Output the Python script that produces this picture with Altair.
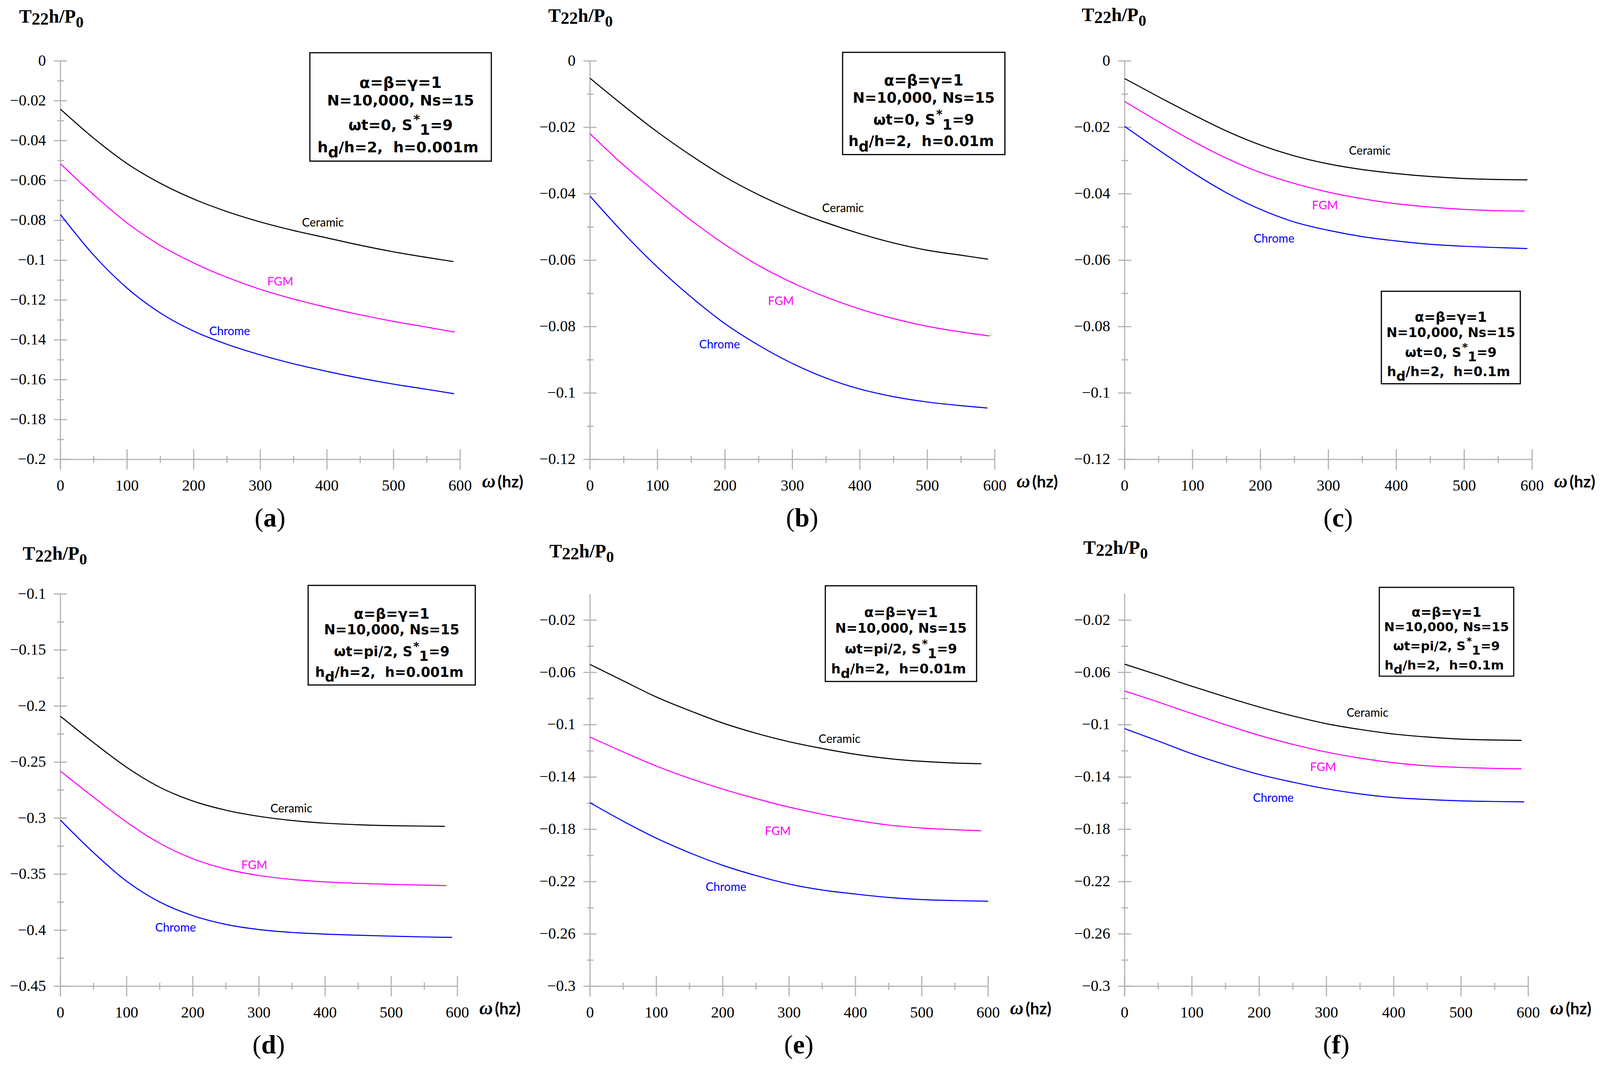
import altair as alt
import pandas as pd

# ---------------- data ----------------
FREQ = [0, 50, 100, 150, 200, 250, 300, 350, 400, 450, 500, 550]
SERIES = ["Ceramic", "FGM", "Chrome"]
COLORS = ["#000000", "#ff00ff", "#0000ff"]
X_TICKS = [0, 100, 200, 300, 400, 500, 600]
X_MINOR = [50, 150, 250, 350, 450, 550]

A_CERAMIC = [-0.0242, -0.0388, -0.0515, -0.0614, -0.0693, -0.0756, -0.0808, -0.0851, -0.0888, -0.0925, -0.0958, -0.0986, -0.1007]
A_FGM = [-0.0516, -0.0672, -0.0813, -0.0926, -0.1014, -0.1086, -0.1146, -0.1195, -0.1237, -0.1274, -0.1307, -0.1336, -0.1361]
A_CHROME = [-0.0771, -0.0975, -0.1140, -0.1265, -0.1356, -0.1422, -0.1475, -0.1520, -0.1558, -0.1592, -0.1622, -0.1648, -0.1670]
A_END = [590, 592, 591]
A_YTICKS = [0, -0.02, -0.04, -0.06, -0.08, -0.1, -0.12, -0.14, -0.16, -0.18, -0.2]
A_YMINOR = [-0.01, -0.03, -0.05, -0.07, -0.09, -0.11, -0.13, -0.15, -0.17, -0.19]

B_CERAMIC = [-0.0052, -0.0135, -0.0214, -0.0285, -0.0349, -0.0403, -0.0449, -0.0487, -0.0520, -0.0548, -0.0570, -0.0585, -0.0597]
B_FGM = [-0.0219, -0.0314, -0.0399, -0.0480, -0.0553, -0.0616, -0.0668, -0.0711, -0.0747, -0.0776, -0.0799, -0.0816, -0.0828]
B_CHROME = [-0.0407, -0.0519, -0.0621, -0.0711, -0.0791, -0.0856, -0.0911, -0.0955, -0.0988, -0.1011, -0.1027, -0.1038, -0.1045]
B_END = [590, 592, 589]
BC_YTICKS = [0, -0.02, -0.04, -0.06, -0.08, -0.1, -0.12]
BC_YMINOR = [-0.01, -0.03, -0.05, -0.07, -0.09, -0.11]

C_CERAMIC = [-0.0053, -0.0108, -0.0161, -0.0211, -0.0253, -0.0286, -0.0310, -0.0327, -0.0339, -0.0348, -0.0354, -0.0357, -0.0358]
C_FGM = [-0.0122, -0.0183, -0.0241, -0.0293, -0.0336, -0.0369, -0.0395, -0.0415, -0.0430, -0.0440, -0.0447, -0.0451, -0.0452]
C_CHROME = [-0.0197, -0.0268, -0.0336, -0.0397, -0.0447, -0.0485, -0.0510, -0.0529, -0.0542, -0.0552, -0.0558, -0.0562, -0.0565]
C_END = [593, 589, 593]

D_CERAMIC = [-0.2091, -0.2326, -0.2546, -0.2724, -0.2847, -0.2929, -0.2984, -0.3021, -0.3045, -0.3059, -0.3067, -0.3071, -0.3073]
D_FGM = [-0.2581, -0.2813, -0.3036, -0.3224, -0.3362, -0.3454, -0.3512, -0.3547, -0.3569, -0.3582, -0.3591, -0.3598, -0.3602]
D_CHROME = [-0.3018, -0.3308, -0.3563, -0.3748, -0.3870, -0.3948, -0.3994, -0.4020, -0.4035, -0.4045, -0.4053, -0.4060, -0.4064]
D_END = [581, 583, 592]
D_YTICKS = [-0.1, -0.15, -0.2, -0.25, -0.3, -0.35, -0.4, -0.45]
D_YMINOR = [-0.125, -0.175, -0.225, -0.275, -0.325, -0.375, -0.425]

E_CERAMIC = [-0.0539, -0.0664, -0.0788, -0.0892, -0.0987, -0.1065, -0.1130, -0.1182, -0.1226, -0.1259, -0.1280, -0.1293, -0.1298]
E_FGM = [-0.1094, -0.1208, -0.1316, -0.1410, -0.1492, -0.1565, -0.1630, -0.1685, -0.1731, -0.1767, -0.1790, -0.1803, -0.1811]
E_CHROME = [-0.1596, -0.1738, -0.1868, -0.1979, -0.2075, -0.2153, -0.2218, -0.2264, -0.2295, -0.2321, -0.2337, -0.2345, -0.2350]
E_END = [590, 590, 600]
EF_YTICKS = [-0.02, -0.06, -0.1, -0.14, -0.18, -0.22, -0.26, -0.3]
EF_YMINOR = [-0.04, -0.08, -0.12, -0.16, -0.2, -0.24, -0.28]

F_CERAMIC = [-0.0537, -0.0620, -0.0706, -0.0787, -0.0864, -0.0933, -0.0992, -0.1036, -0.1071, -0.1094, -0.1110, -0.1117, -0.1120]
F_FGM = [-0.0742, -0.0826, -0.0915, -0.1000, -0.1081, -0.1150, -0.1209, -0.1255, -0.1291, -0.1314, -0.1327, -0.1334, -0.1337]
F_CHROME = [-0.1030, -0.1125, -0.1222, -0.1306, -0.1380, -0.1439, -0.1490, -0.1529, -0.1557, -0.1572, -0.1582, -0.1587, -0.1590]
F_END = [590, 590, 594]

# ---------------- layout / style ----------------
GREY = "#b4b4b4"
AXW = 3
SERIF = "Liberation Serif"
SANS_BOX = "DejaVu Sans"
SANS_LAB = "Lato"
ONE = pd.DataFrame({"k": [0]})

PANELS = [
    dict(W=1025, H=1022, ydom=[-0.2, 0], ymaj=A_YTICKS, ymin=A_YMINOR,
         vals=[A_CERAMIC, A_FGM, A_CHROME], ends=A_END,
         lab_x=[394, 330, 254], lab_y=[-0.0813, -0.111, -0.1358],
         box=(0.624, 1.078, -0.0206, 0.2514), lines=(0.068, 0.112, 0.173, 0.229), fs=38,
         l3="\u03c9t=0, S", l4="h=0.001m", letter="a", tdx=-106, tdy=-98),
    dict(W=1038, H=1022, ydom=[-0.12, 0], ymaj=BC_YTICKS, ymin=BC_YMINOR,
         vals=[B_CERAMIC, B_FGM, B_CHROME], ends=B_END,
         lab_x=[375, 283, 192], lab_y=[-0.0444, -0.0725, -0.0855],
         box=(0.624, 1.025, -0.0217, 0.235), lines=(0.0617, 0.105, 0.160, 0.214), fs=36.7,
         l3="\u03c9t=0, S", l4="h=0.01m", letter="b", tdx=-107, tdy=-100),
    dict(W=1045, H=1022, ydom=[-0.12, 0], ymaj=BC_YTICKS, ymin=BC_YMINOR,
         vals=[C_CERAMIC, C_FGM, C_CHROME], ends=C_END,
         lab_x=[361, 295, 220], lab_y=[-0.0272, -0.0436, -0.0536],
         box=(0.630, 0.971, 0.578, 0.810), lines=(0.655, 0.693, 0.743, 0.791), fs=33.3,
         l3="\u03c9t=0, S", l4="h=0.1m", letter="c", tdx=-110, tdy=-102),
    dict(W=1018, H=1006, ydom=[-0.45, -0.1], ymaj=D_YTICKS, ymin=D_YMINOR,
         vals=[D_CERAMIC, D_FGM, D_CHROME], ends=D_END,
         lab_x=[349, 293, 174], lab_y=[-0.2917, -0.3424, -0.3981],
         box=(0.624, 1.045, -0.022, 0.232), lines=(0.063, 0.103, 0.159, 0.211), fs=35,
         l3="\u03c9t=pi/2, S", l4="h=0.001m", letter="d", tdx=-97, tdy=-88),
    dict(W=1021, H=1006, ydom=[-0.3, 0], ymaj=EF_YTICKS, ymin=EF_YMINOR,
         vals=[E_CERAMIC, E_FGM, E_CHROME], ends=E_END,
         lab_x=[376, 283, 205], lab_y=[-0.1112, -0.1816, -0.2244],
         box=(0.591, 0.971, -0.021, 0.223), lines=(0.0587, 0.0984, 0.152, 0.202), fs=34,
         l3="\u03c9t=pi/2, S", l4="h=0.01m", letter="e", tdx=-104, tdy=-94),
    dict(W=1035, H=1006, ydom=[-0.3, 0], ymaj=EF_YTICKS, ymin=EF_YMINOR,
         vals=[F_CERAMIC, F_FGM, F_CHROME], ends=F_END,
         lab_x=[361, 295, 221], lab_y=[-0.0912, -0.1326, -0.1562],
         box=(0.631, 0.964, -0.017, 0.2095), lines=(0.058, 0.0945, 0.144, 0.192), fs=32.3,
         l3="\u03c9t=pi/2, S", l4="h=0.1m", letter="f", tdx=-106, tdy=-103),
]

# DejaVu Sans Bold advance widths (em)
DJB = {" ": 0.348, "\u00a0": 0.348, ",": 0.381, ".": 0.381, "/": 0.365, "=": 0.838,
       "*": 0.5, "N": 0.837, "S": 0.72, "d": 0.716, "h": 0.712, "i": 0.343,
       "m": 1.042, "p": 0.716, "s": 0.595, "t": 0.478, "\u03c9": 0.93}
# Times bold / regular widths (em)
TMB = {"T": 0.667, "2": 0.5, "h": 0.556, "/": 0.278, "P": 0.611, "0": 0.5,
       "a": 0.5, "b": 0.556, "c": 0.444, "d": 0.556, "e": 0.444, "f": 0.333, "(": 0.333, ")": 0.333}


def tw(s, fs, table=DJB, default=0.696):
    return sum(table.get(c, default) for c in s) * fs


def fmt(v):
    s = f"{v:g}"
    return s.replace("-", "\u2212")


def txt(t, x, y, fs, font, color="black", align="left", weight=None, style=None):
    kw = dict(font=font, fontSize=fs, color=color, align=align, baseline="alphabetic")
    if weight:
        kw["fontWeight"] = weight
    if style:
        kw["fontStyle"] = style
    return alt.Chart(ONE).mark_text(**kw).encode(
        x=alt.value(x), y=alt.value(y), text=alt.value(t))


def seg_line(segs, cx, y, fs, font, weight="bold"):
    # segs: (text, dy_em, size_factor)
    widths = [tw(t, fs * f) for t, _, f in segs]
    x = cx - sum(widths) / 2
    out = []
    for (t, dy, f), w in zip(segs, widths):
        out.append(txt(t, x, y + dy * fs, fs * f, font, weight=weight))
        x += w
    return out


def build_panel(p):
    W, H = p["W"], p["H"]
    xs = alt.Scale(domain=[0, 600], nice=False, zero=False)
    ys = alt.Scale(domain=p["ydom"], nice=False, zero=False)
    L = []
    # axis lines
    L.append(alt.Chart(ONE).mark_rule(color=GREY, strokeWidth=AXW).encode(
        x=alt.value(0), y=alt.value(0), y2=alt.value(H + 26)))
    L.append(alt.Chart(ONE).mark_rule(color=GREY, strokeWidth=AXW).encode(
        x=alt.value(0), x2=alt.value(W), y=alt.value(H)))
    # y ticks
    ymaj = pd.DataFrame({"v": p["ymaj"], "lab": [fmt(v) for v in p["ymaj"]]})
    L.append(alt.Chart(ymaj).mark_rule(color=GREY, strokeWidth=AXW).encode(
        y=alt.Y("v:Q", scale=ys, axis=None), x=alt.value(-17), x2=alt.value(17)))
    L.append(alt.Chart(pd.DataFrame({"v": p["ymin"]})).mark_rule(color=GREY, strokeWidth=AXW).encode(
        y=alt.Y("v:Q", scale=ys, axis=None), x=alt.value(-8), x2=alt.value(9)))
    L.append(alt.Chart(ymaj).mark_text(font=SERIF, fontSize=40, color="black", align="right",
                                       baseline="middle").encode(
        y=alt.Y("v:Q", scale=ys, axis=None), x=alt.value(-37), text="lab:N"))
    # x ticks
    xmaj = pd.DataFrame({"f": X_TICKS, "lab": [str(v) for v in X_TICKS]})
    L.append(alt.Chart(xmaj).mark_rule(color=GREY, strokeWidth=AXW).encode(
        x=alt.X("f:Q", scale=xs, axis=None), y=alt.value(H - 26), y2=alt.value(H + 26)))
    L.append(alt.Chart(pd.DataFrame({"f": X_MINOR})).mark_rule(color=GREY, strokeWidth=AXW).encode(
        x=alt.X("f:Q", scale=xs, axis=None), y=alt.value(H - 9), y2=alt.value(H + 9)))
    L.append(alt.Chart(xmaj).mark_text(font=SERIF, fontSize=40, color="black", align="center",
                                       baseline="alphabetic").encode(
        x=alt.X("f:Q", scale=xs, axis=None), y=alt.value(H + 80), text="lab:N"))

    rows = []
    for name, vals, end in zip(SERIES, p["vals"], p["ends"]):
        for f, v in zip(FREQ + [end], vals):
            rows.append({"f": f, "v": v, "s": name})
    df = pd.DataFrame(rows)
    cscale = alt.Scale(domain=SERIES, range=COLORS)
    L.append(alt.Chart(df).mark_line(strokeWidth=2.7, interpolate="monotone").encode(
        x=alt.X("f:Q", scale=xs, axis=None),
        y=alt.Y("v:Q", scale=ys, axis=None),
        color=alt.Color("s:N", scale=cscale, legend=None)))
    lab = pd.DataFrame({"f": p["lab_x"], "v": p["lab_y"], "s": SERIES})
    L.append(alt.Chart(lab).mark_text(font=SANS_LAB, fontSize=30, align="center", baseline="middle").encode(
        x=alt.X("f:Q", scale=xs, axis=None), y=alt.Y("v:Q", scale=ys, axis=None),
        text="s:N", color=alt.Color("s:N", scale=cscale, legend=None)))

    # info box
    fx0, fx1, fy0, fy1 = p["box"]
    L.append(alt.Chart(ONE).mark_rect(fill="white", stroke="black", strokeWidth=3).encode(
        x=alt.value(fx0 * W), x2=alt.value(fx1 * W), y=alt.value(fy0 * H), y2=alt.value(fy1 * H)))
    cx = (fx0 + fx1) / 2 * W
    fs = p["fs"]
    ly = [v * H for v in p["lines"]]
    L.append(txt("\u03b1=\u03b2=\u03b3=1", cx, ly[0], fs * 1.05, SANS_BOX, align="center", weight="bold"))
    L.append(txt("N=10,000, Ns=15", cx, ly[1], fs, SANS_BOX, align="center", weight="bold"))
    L += seg_line([(p["l3"], 0, 1.0), ("*", -0.45, 0.85), ("1", 0.34, 1.0), ("=9", 0, 1.0)],
                  cx, ly[2], fs, SANS_BOX)
    L += seg_line([("h", 0, 1.0), ("d", 0.36, 1.0), ("\u00a0/h=2,\u00a0\u00a0" + p["l4"], 0, 1.0)],
                  cx, ly[3], fs, SANS_BOX)

    # y title T22h/P0
    x0, y0 = p["tdx"], p["tdy"]
    L.append(txt("T", x0, y0, 48, SERIF, weight="bold"))
    x1 = x0 + tw("T", 48, TMB)
    L.append(txt("22", x1, y0 + 5, 44, SERIF, weight="bold"))
    x2 = x1 + tw("22", 44, TMB)
    L.append(txt("h/P", x2, y0, 48, SERIF, weight="bold"))
    x3 = x2 + tw("h/P", 48, TMB)
    L.append(txt("0", x3, y0 + 12, 40, SERIF, weight="bold"))

    # x title  w (hz)
    L.append(txt("\u03c9", W + 56, H + 72, 48, SERIF, weight="bold", style="italic"))
    L.append(txt("(hz)", W + 96, H + 72, 42, SANS_LAB, weight="bold"))

    # panel letter
    lfs = 68
    total = tw("(", lfs, TMB) + tw(p["letter"], lfs, TMB) + tw(")", lfs, TMB)
    lx = W / 2 + 25 - total / 2
    ly0 = H + 172
    L.append(txt("(", lx, ly0, lfs, SERIF))
    lx += tw("(", lfs, TMB)
    L.append(txt(p["letter"], lx, ly0, lfs, SERIF, weight="bold"))
    lx += tw(p["letter"], lfs, TMB)
    L.append(txt(")", lx, ly0, lfs, SERIF))

    return alt.layer(*L).properties(width=W, height=H)


panels = [build_panel(p) for p in PANELS]
chart = alt.concat(*panels, columns=3, spacing={"row": 345, "column": 333}, bounds="flush").properties(
    padding={"left": 17, "top": 6, "right": 3, "bottom": 3}, background="white"
).configure_view(strokeWidth=0)

chart.save("out.html", embed_options={"renderer": "svg", "actions": False})
